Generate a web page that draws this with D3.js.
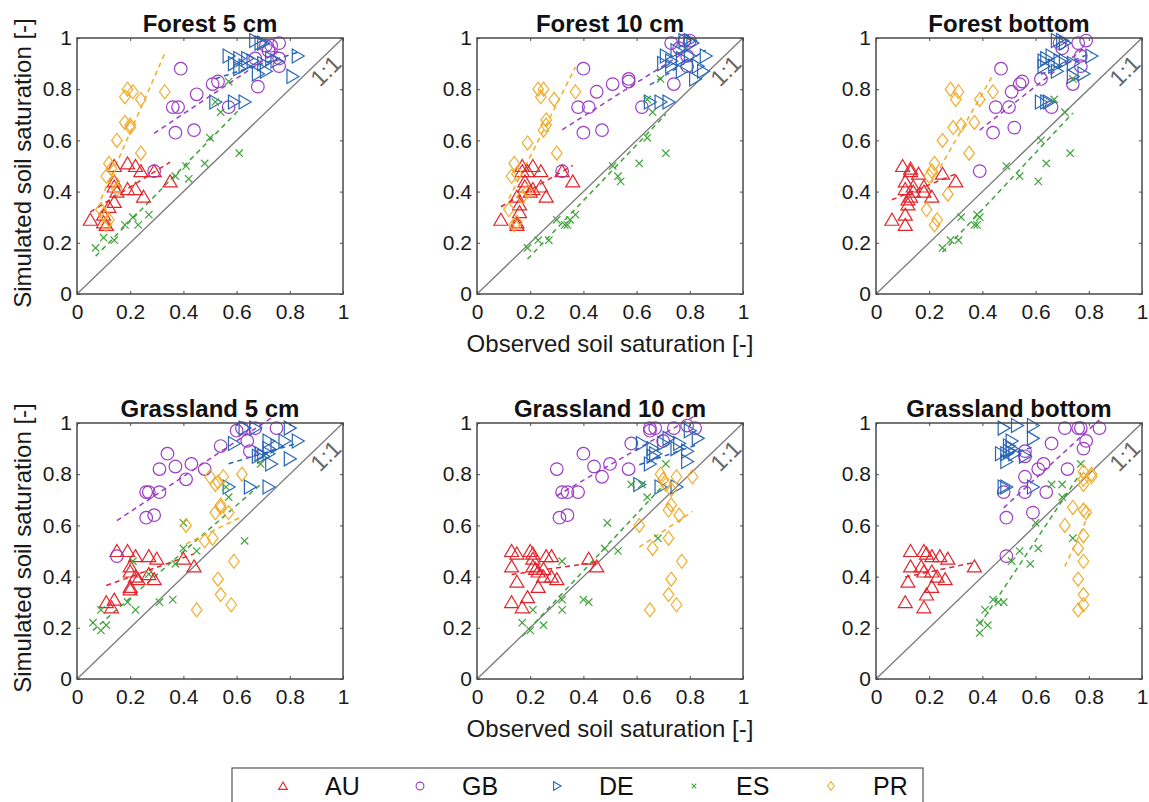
<!DOCTYPE html>
<html>
<head>
<meta charset="utf-8">
<script src="https://cdn.jsdelivr.net/npm/d3@7"></script>
<style>
  body { margin: 0; background: #fff; }
  svg { font-family: "Liberation Sans", Arial, Helvetica, sans-serif; }
</style>
</head>
<body>
<div id="chart"></div>
<script>
// series (countries) and panel titles
const seriesNames = ["AU", "GB", "DE", "ES", "PR"];
const panelTitles = ["Forest 5 cm", "Forest 10 cm", "Forest bottom", "Grassland 5 cm", "Grassland 10 cm", "Grassland bottom"];
const ticks = [0, 0.2, 0.4, 0.6, 0.8, 1];

// [observed, simulated] pairs
// Forest 5 cm
const f5AU = [[0.05,0.29],[0.10,0.28],[0.11,0.27],[0.12,0.34],[0.14,0.36],[0.14,0.50],[0.19,0.51],[0.22,0.50],[0.24,0.48],[0.29,0.48],[0.35,0.44],[0.14,0.44],[0.14,0.42],[0.15,0.40],[0.19,0.41],[0.22,0.41],[0.25,0.38],[0.10,0.31]];
const f5GB = [[0.39,0.88],[0.36,0.73],[0.38,0.73],[0.45,0.78],[0.37,0.63],[0.44,0.64],[0.51,0.82],[0.53,0.83],[0.57,0.73],[0.29,0.48],[0.67,0.92],[0.68,0.81],[0.71,0.97],[0.73,0.97],[0.76,0.98],[0.76,0.92],[0.76,0.89],[0.72,0.95]];
const f5DE = [[0.67,0.99],[0.69,0.98],[0.70,0.98],[0.57,0.93],[0.61,0.92],[0.64,0.92],[0.66,0.91],[0.59,0.90],[0.61,0.88],[0.63,0.89],[0.70,0.90],[0.73,0.92],[0.68,0.86],[0.71,0.87],[0.83,0.93],[0.81,0.85],[0.52,0.75],[0.59,0.75],[0.63,0.75],[0.75,0.91]];
const f5ES = [[0.07,0.18],[0.10,0.22],[0.14,0.21],[0.18,0.27],[0.21,0.30],[0.23,0.27],[0.27,0.31],[0.37,0.46],[0.41,0.50],[0.42,0.45],[0.48,0.51],[0.50,0.61],[0.61,0.55],[0.52,0.75],[0.54,0.71],[0.57,0.83]];
const f5PR = [[0.19,0.80],[0.21,0.79],[0.18,0.77],[0.24,0.76],[0.33,0.79],[0.18,0.67],[0.20,0.65],[0.20,0.66],[0.15,0.60],[0.24,0.55],[0.12,0.51],[0.13,0.49],[0.11,0.46],[0.14,0.44],[0.15,0.41],[0.09,0.33],[0.10,0.31],[0.12,0.29],[0.11,0.27]];
// Forest 10 cm
const f10AU = [[0.09,0.29],[0.15,0.28],[0.15,0.27],[0.16,0.32],[0.16,0.35],[0.17,0.50],[0.17,0.48],[0.18,0.44],[0.18,0.42],[0.19,0.48],[0.21,0.50],[0.20,0.40],[0.21,0.41],[0.24,0.48],[0.24,0.42],[0.26,0.38],[0.32,0.48],[0.36,0.44],[0.15,0.38]];
const f10GB = [[0.40,0.88],[0.38,0.73],[0.42,0.73],[0.45,0.79],[0.40,0.63],[0.47,0.64],[0.51,0.82],[0.57,0.84],[0.57,0.83],[0.62,0.73],[0.32,0.48],[0.73,0.98],[0.74,0.82],[0.78,0.99],[0.80,0.99],[0.79,0.93],[0.79,0.89],[0.76,0.96]];
const f10DE = [[0.78,0.99],[0.80,0.99],[0.81,0.98],[0.71,0.93],[0.73,0.91],[0.73,0.89],[0.77,0.92],[0.80,0.93],[0.86,0.93],[0.83,0.89],[0.85,0.87],[0.82,0.84],[0.77,0.87],[0.65,0.75],[0.69,0.75],[0.72,0.75],[0.70,0.90],[0.75,0.95]];
const f10ES = [[0.19,0.18],[0.23,0.21],[0.27,0.21],[0.30,0.29],[0.33,0.27],[0.34,0.27],[0.37,0.31],[0.35,0.29],[0.51,0.50],[0.53,0.46],[0.54,0.44],[0.61,0.51],[0.64,0.61],[0.71,0.55],[0.64,0.76],[0.66,0.71],[0.69,0.84]];
const f10PR = [[0.23,0.80],[0.25,0.80],[0.24,0.77],[0.29,0.76],[0.37,0.79],[0.26,0.68],[0.26,0.66],[0.25,0.64],[0.19,0.59],[0.30,0.55],[0.14,0.51],[0.13,0.46],[0.15,0.47],[0.17,0.38],[0.12,0.33],[0.15,0.28],[0.14,0.27],[0.19,0.40]];
// Forest bottom
const fbAU = [[0.06,0.29],[0.11,0.27],[0.11,0.31],[0.12,0.35],[0.12,0.37],[0.10,0.50],[0.13,0.49],[0.13,0.48],[0.11,0.44],[0.11,0.41],[0.14,0.42],[0.16,0.47],[0.18,0.42],[0.18,0.40],[0.21,0.38],[0.25,0.47],[0.30,0.44],[0.13,0.38],[0.14,0.40]];
const fbGB = [[0.47,0.88],[0.45,0.73],[0.50,0.73],[0.51,0.79],[0.44,0.63],[0.52,0.65],[0.54,0.82],[0.55,0.83],[0.62,0.84],[0.66,0.73],[0.39,0.48],[0.69,0.98],[0.74,0.82],[0.76,0.98],[0.79,0.99],[0.77,0.89],[0.77,0.93],[0.70,0.96]];
const fbDE = [[0.68,0.99],[0.70,0.99],[0.71,0.98],[0.63,0.91],[0.64,0.92],[0.66,0.93],[0.63,0.89],[0.67,0.89],[0.71,0.91],[0.74,0.90],[0.81,0.93],[0.78,0.86],[0.74,0.85],[0.68,0.87],[0.62,0.75],[0.64,0.75],[0.65,0.75],[0.69,0.91]];
const fbES = [[0.25,0.18],[0.28,0.21],[0.31,0.21],[0.32,0.30],[0.37,0.27],[0.38,0.27],[0.38,0.31],[0.39,0.30],[0.49,0.50],[0.54,0.46],[0.61,0.44],[0.64,0.51],[0.62,0.60],[0.73,0.55],[0.67,0.76],[0.71,0.71],[0.74,0.84]];
const fbPR = [[0.28,0.80],[0.31,0.79],[0.30,0.76],[0.39,0.76],[0.44,0.79],[0.37,0.67],[0.29,0.65],[0.32,0.66],[0.25,0.60],[0.35,0.55],[0.22,0.51],[0.20,0.46],[0.27,0.39],[0.19,0.33],[0.22,0.27],[0.23,0.29],[0.21,0.48]];
// Grassland 5 cm
const g5AU = [[0.15,0.50],[0.19,0.50],[0.22,0.48],[0.27,0.48],[0.30,0.47],[0.40,0.47],[0.44,0.44],[0.20,0.44],[0.20,0.42],[0.22,0.40],[0.23,0.39],[0.27,0.41],[0.29,0.39],[0.20,0.36],[0.20,0.35],[0.14,0.31],[0.11,0.30],[0.13,0.28]];
const g5GB = [[0.34,0.88],[0.31,0.82],[0.37,0.83],[0.43,0.84],[0.48,0.82],[0.41,0.78],[0.26,0.73],[0.27,0.73],[0.31,0.73],[0.26,0.63],[0.29,0.64],[0.15,0.48],[0.54,0.91],[0.60,0.97],[0.64,0.93],[0.65,0.89],[0.67,0.98],[0.75,0.98],[0.62,0.98]];
const g5DE = [[0.63,0.98],[0.67,0.98],[0.80,0.98],[0.59,0.92],[0.72,0.93],[0.75,0.91],[0.78,0.93],[0.83,0.93],[0.72,0.90],[0.69,0.88],[0.72,0.88],[0.70,0.87],[0.73,0.84],[0.80,0.86],[0.57,0.75],[0.65,0.75],[0.72,0.75],[0.68,0.87]];
const g5ES = [[0.06,0.22],[0.09,0.19],[0.11,0.21],[0.09,0.27],[0.19,0.30],[0.22,0.27],[0.31,0.30],[0.36,0.31],[0.21,0.46],[0.27,0.41],[0.37,0.45],[0.40,0.51],[0.40,0.61],[0.45,0.50],[0.63,0.54],[0.56,0.75],[0.57,0.71],[0.69,0.84]];
const g5PR = [[0.50,0.79],[0.55,0.79],[0.62,0.80],[0.52,0.76],[0.53,0.77],[0.54,0.67],[0.54,0.68],[0.52,0.65],[0.57,0.65],[0.41,0.60],[0.51,0.55],[0.48,0.54],[0.59,0.46],[0.53,0.39],[0.54,0.33],[0.58,0.29],[0.45,0.27]];
// Grassland 10 cm
const g10AU = [[0.13,0.50],[0.15,0.49],[0.20,0.50],[0.21,0.49],[0.21,0.47],[0.13,0.44],[0.21,0.44],[0.22,0.43],[0.23,0.42],[0.25,0.43],[0.26,0.48],[0.28,0.48],[0.25,0.40],[0.28,0.40],[0.30,0.39],[0.15,0.38],[0.23,0.36],[0.19,0.32],[0.13,0.30],[0.17,0.28],[0.42,0.47],[0.45,0.44]];
const g10GB = [[0.30,0.82],[0.40,0.88],[0.32,0.73],[0.34,0.73],[0.38,0.73],[0.31,0.63],[0.34,0.64],[0.44,0.83],[0.50,0.84],[0.47,0.79],[0.58,0.92],[0.57,0.82],[0.65,0.98],[0.67,0.98],[0.74,0.98],[0.82,0.98],[0.70,0.93],[0.65,0.97],[0.79,0.99]];
const g10DE = [[0.62,0.92],[0.66,0.90],[0.67,0.88],[0.66,0.87],[0.72,0.94],[0.76,0.92],[0.80,0.97],[0.83,0.94],[0.75,0.90],[0.79,0.89],[0.79,0.85],[0.61,0.76],[0.69,0.75],[0.75,0.75],[0.65,0.84],[0.70,0.92]];
const g10ES = [[0.17,0.22],[0.20,0.19],[0.25,0.21],[0.21,0.27],[0.32,0.31],[0.32,0.27],[0.40,0.31],[0.42,0.30],[0.32,0.46],[0.48,0.51],[0.53,0.50],[0.49,0.61],[0.68,0.55],[0.58,0.76],[0.62,0.76],[0.64,0.71],[0.71,0.84]];
const g10PR = [[0.69,0.80],[0.70,0.78],[0.75,0.79],[0.81,0.79],[0.71,0.76],[0.73,0.74],[0.61,0.60],[0.72,0.66],[0.73,0.68],[0.76,0.64],[0.66,0.51],[0.72,0.55],[0.77,0.46],[0.73,0.39],[0.72,0.33],[0.75,0.29],[0.65,0.27]];
// Grassland bottom
const gbAU = [[0.11,0.30],[0.13,0.50],[0.18,0.50],[0.13,0.44],[0.21,0.48],[0.24,0.48],[0.27,0.47],[0.37,0.44],[0.18,0.42],[0.21,0.42],[0.17,0.44],[0.23,0.40],[0.26,0.39],[0.12,0.38],[0.21,0.36],[0.19,0.33],[0.18,0.28],[0.19,0.49]];
const gbGB = [[0.49,0.48],[0.49,0.63],[0.59,0.65],[0.48,0.73],[0.56,0.73],[0.64,0.73],[0.56,0.79],[0.61,0.82],[0.63,0.84],[0.56,0.89],[0.66,0.92],[0.71,0.98],[0.76,0.98],[0.77,0.98],[0.84,0.98],[0.79,0.93],[0.78,0.90],[0.72,0.82],[0.56,0.87]];
const gbDE = [[0.48,0.98],[0.53,0.99],[0.59,0.99],[0.59,0.94],[0.51,0.93],[0.50,0.91],[0.51,0.90],[0.49,0.88],[0.52,0.88],[0.56,0.87],[0.49,0.85],[0.48,0.75],[0.49,0.75],[0.59,0.75],[0.47,0.88],[0.50,0.89]];
const gbES = [[0.39,0.22],[0.39,0.18],[0.42,0.21],[0.41,0.27],[0.44,0.31],[0.46,0.30],[0.48,0.30],[0.51,0.46],[0.54,0.50],[0.58,0.45],[0.61,0.51],[0.60,0.61],[0.74,0.55],[0.66,0.76],[0.70,0.76],[0.70,0.71],[0.77,0.84]];
const gbPR = [[0.78,0.81],[0.81,0.79],[0.78,0.78],[0.78,0.76],[0.74,0.67],[0.78,0.66],[0.79,0.65],[0.71,0.60],[0.78,0.56],[0.76,0.51],[0.78,0.46],[0.76,0.39],[0.78,0.33],[0.78,0.29],[0.76,0.27],[0.81,0.80]];

const panelData = [
  [f5AU, f5GB, f5DE, f5ES, f5PR],
  [f10AU, f10GB, f10DE, f10ES, f10PR],
  [fbAU, fbGB, fbDE, fbES, fbPR],
  [g5AU, g5GB, g5DE, g5ES, g5PR],
  [g10AU, g10GB, g10DE, g10ES, g10PR],
  [gbAU, gbGB, gbDE, gbES, gbPR]
];

const colors = { AU: "#e3242b", GB: "#9b3cc2", DE: "#2866b5", ES: "#3fa33a", PR: "#f0ad2c" };

// marker shapes (MATLAB style: ^ o > x d)
const markerPath = {
  AU: s => `M0,${-6.5*s}L${7*s},${5.5*s}L${-7*s},${5.5*s}Z`,
  GB: s => `M${6.3*s},0A${6.3*s},${6.3*s} 0 1,1 ${-6.3*s},0A${6.3*s},${6.3*s} 0 1,1 ${6.3*s},0Z`,
  DE: s => `M${6.5*s},0L${-5.5*s},${-7*s}L${-5.5*s},${7*s}Z`,
  ES: s => `M${-3.7*s},${-3.7*s}L${3.7*s},${3.7*s}M${-3.7*s},${3.7*s}L${3.7*s},${-3.7*s}`,
  PR: s => `M0,${-7*s}L${5.3*s},0L0,${7*s}L${-5.3*s},0Z`
};

const W = 1149, H = 802;
const pw = 266, ph = 256;
const colX = [77, 477, 876];
const rowY = [38, 423];

const svg = d3.select("#chart").append("svg")
  .attr("width", W)
  .attr("height", H);

// least squares fit, drawn over the data's x range
function fit(pts) {
  const mx = d3.mean(pts, d => d[0]), my = d3.mean(pts, d => d[1]);
  const sxy = d3.sum(pts, d => (d[0] - mx) * (d[1] - my));
  const sxx = d3.sum(pts, d => (d[0] - mx) * (d[0] - mx));
  const b = sxy / sxx, a = my - b * mx;
  const [x0, x1] = d3.extent(pts, d => d[0]);
  return [[x0, a + b * x0], [x1, a + b * x1]];
}

panelTitles.forEach((title, p) => {
  const col = p % 3, row = Math.floor(p / 3);
  const g = svg.append("g")
    .attr("transform", "translate(" + colX[col] + "," + rowY[row] + ")");

  const x = d3.scaleLinear().domain([0, 1]).range([0, pw]);
  const y = d3.scaleLinear().domain([0, 1]).range([ph, 0]);

  // 1:1 line
  g.append("line")
    .attr("x1", x(0)).attr("y1", y(0))
    .attr("x2", x(1)).attr("y2", y(1))
    .attr("stroke", "#7a7a7a")
    .attr("stroke-width", 1.3);

  g.append("text")
    .attr("transform", "translate(" + x(0.935) + "," + y(0.872) + ") rotate(-45)")
    .attr("text-anchor", "middle")
    .attr("dy", "0.35em")
    .attr("font-size", 23)
    .attr("fill", "#666")
    .text("1:1");

  // fitted dashed lines
  panelData[p].forEach((pts, s) => {
    const name = seriesNames[s];
    g.append("path")
      .datum(fit(pts))
      .attr("fill", "none")
      .attr("stroke", colors[name])
      .attr("stroke-width", 1.5)
      .attr("stroke-dasharray", "5,4")
      .attr("d", d3.line().x(d => x(d[0])).y(d => y(d[1])));
  });

  // markers
  panelData[p].forEach((pts, s) => {
    const name = seriesNames[s];
    g.append("g")
      .selectAll("path")
      .data(pts)
      .enter()
      .append("path")
      .attr("transform", d => "translate(" + x(d[0]) + "," + y(d[1]) + ")")
      .attr("d", markerPath[name](1))
      .attr("fill", "none")
      .attr("stroke", colors[name])
      .attr("stroke-width", 1.2);
  });

  // axes with inward ticks on all sides
  const fmt = d3.format("~g");
  g.append("g")
    .attr("transform", "translate(0," + ph + ")")
    .call(d3.axisBottom(x).tickValues(ticks).tickFormat(fmt).tickSizeInner(-3).tickSizeOuter(0).tickPadding(10));
  g.append("g")
    .call(d3.axisLeft(y).tickValues(ticks).tickFormat(fmt).tickSizeInner(-3).tickSizeOuter(0).tickPadding(5));
  g.append("g")
    .call(d3.axisTop(x).tickValues(ticks).tickFormat("").tickSizeInner(-3).tickSizeOuter(0));
  g.append("g")
    .attr("transform", "translate(" + pw + ",0)")
    .call(d3.axisRight(y).tickValues(ticks).tickFormat("").tickSizeInner(-3).tickSizeOuter(0));

  g.selectAll(".domain").remove();
  g.selectAll(".tick line").attr("stroke", "#4a4a4a");
  g.selectAll(".tick text")
    .attr("font-size", 21)
    .attr("fill", "#1a1a1a")
    .style("font-family", "'Liberation Sans', Arial, sans-serif");

  g.append("rect")
    .attr("width", pw).attr("height", ph)
    .attr("fill", "none")
    .attr("stroke", "#4a4a4a")
    .attr("stroke-width", 1.5);

  // title
  g.append("text")
    .attr("x", pw / 2)
    .attr("y", -6)
    .attr("text-anchor", "middle")
    .attr("font-size", 24)
    .attr("font-weight", "bold")
    .attr("fill", "#111")
    .text(title);

  if (col === 0) {
    g.append("text")
      .attr("transform", "translate(-46," + (ph / 2 - 3) + ") rotate(-90)")
      .attr("text-anchor", "middle")
      .attr("font-size", 24)
      .attr("fill", "#1a1a1a")
      .text("Simulated soil saturation [-]");
  }
  if (col === 1) {
    g.append("text")
      .attr("x", pw / 2)
      .attr("y", ph + 58)
      .attr("text-anchor", "middle")
      .attr("font-size", 24)
      .attr("fill", "#1a1a1a")
      .text("Observed soil saturation [-]");
  }
});

// legend
const legend = svg.append("g");
legend.append("rect")
  .attr("x", 232).attr("y", 768)
  .attr("width", 691).attr("height", 50)
  .attr("fill", "#fff")
  .attr("stroke", "#555")
  .attr("stroke-width", 1.2);

const lx = d3.scalePoint().domain(seriesNames).range([283, 831]);
seriesNames.forEach(name => {
  legend.append("path")
    .attr("transform", "translate(" + lx(name) + ",786)")
    .attr("d", markerPath[name](0.62))
    .attr("fill", "none")
    .attr("stroke", colors[name])
    .attr("stroke-width", 1.1);
  legend.append("text")
    .attr("x", lx(name) + 42)
    .attr("y", 795)
    .attr("font-size", 25)
    .attr("fill", "#111")
    .text(name);
});
</script>
</body>
</html>
